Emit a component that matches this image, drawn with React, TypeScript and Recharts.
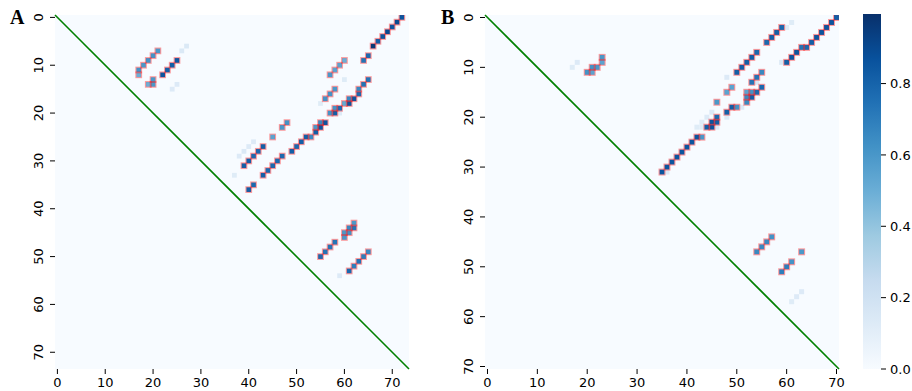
import React from "react"
import {
  ScatterChart,
  Scatter,
  XAxis,
  YAxis,
  CartesianGrid,
  ReferenceLine,
  BarChart,
  Bar,
} from "recharts"

// panel A (74 x 74) – cells marked with a red box
const A_PAIR_COL = [21, 20, 19, 18, 17, 17, 19, 20, 20, 25, 24, 23, 22, 72, 71, 70, 69, 68, 67, 66, 65, 64, 60, 59, 58, 57, 65, 64, 63, 63, 62, 61, 61, 60, 59, 58, 58, 57, 58, 57, 56, 56, 55, 55, 54, 54, 53, 52, 51, 50, 49, 48, 47, 45, 47, 46, 45, 44, 43, 41, 40, 43, 42, 41, 40, 39, 62, 62, 61, 61, 60, 60, 58, 57, 56, 55, 65, 64, 63, 62, 61]
const A_PAIR_ROW = [7, 8, 9, 10, 11, 12, 14, 14, 13, 9, 10, 11, 12, 0, 1, 2, 3, 4, 5, 6, 8, 9, 9, 10, 11, 12, 13, 14, 15, 16, 17, 17, 18, 18, 19, 19, 20, 20, 15, 16, 17, 22, 22, 23, 23, 24, 25, 25, 26, 27, 28, 22, 23, 25, 29, 30, 31, 32, 33, 35, 36, 27, 28, 29, 30, 31, 43, 44, 44, 45, 45, 46, 47, 48, 49, 50, 49, 50, 51, 52, 53]
const A_PAIR_VAL = [0.6, 0.62, 0.62, 0.6, 0.62, 0.5, 0.5, 0.6, 0.6, 0.85, 0.82, 0.82, 0.86, 0.86, 0.9, 0.86, 0.9, 0.86, 0.82, 0.97, 0.78, 0.74, 0.5, 0.55, 0.55, 0.6, 0.74, 0.74, 0.66, 0.78, 0.86, 0.66, 0.86, 0.52, 0.78, 0.62, 0.82, 0.62, 0.6, 0.62, 0.62, 0.86, 0.66, 0.86, 0.6, 0.82, 0.66, 0.82, 0.82, 0.78, 0.82, 0.62, 0.6, 0.55, 0.78, 0.78, 0.78, 0.78, 0.82, 0.78, 0.82, 0.82, 0.78, 0.78, 0.82, 0.82, 0.6, 0.74, 0.66, 0.62, 0.6, 0.6, 0.74, 0.74, 0.74, 0.78, 0.66, 0.7, 0.74, 0.7, 0.78]

// panel A – faint cells without a box
const A_FAINT_COL = [26, 27, 24, 25, 60, 59, 55, 41, 40, 39, 38, 37, 59]
const A_FAINT_ROW = [7, 6, 15, 14, 13, 20, 18, 26, 27, 28, 29, 33, 54]
const A_FAINT_VAL = [0.14, 0.14, 0.13, 0.13, 0.12, 0.13, 0.12, 0.13, 0.13, 0.14, 0.13, 0.12, 0.13]

// panel B (71 x 71)
const B_PAIR_COL = [23, 23, 22, 21, 21, 20, 70, 69, 68, 67, 66, 65, 64, 63, 62, 61, 60, 59, 58, 57, 56, 54, 53, 52, 51, 50, 49, 48, 55, 54, 53, 55, 54, 53, 52, 52, 53, 52, 46, 50, 49, 48, 46, 46, 45, 45, 44, 43, 42, 41, 40, 39, 38, 37, 36, 35, 57, 56, 55, 54, 63, 61, 60, 59]
const B_PAIR_ROW = [8, 9, 10, 10, 11, 11, 0, 1, 2, 3, 4, 5, 6, 6, 7, 8, 9, 2, 3, 4, 5, 7, 8, 9, 10, 11, 14, 15, 11, 12, 13, 14, 15, 15, 15, 16, 16, 17, 17, 18, 18, 19, 20, 21, 21, 22, 22, 24, 24, 25, 26, 27, 28, 29, 30, 31, 44, 45, 46, 47, 47, 49, 50, 51]
const B_PAIR_VAL = [0.6, 0.55, 0.6, 0.62, 0.55, 0.62, 0.82, 0.86, 0.86, 0.86, 0.86, 0.82, 0.78, 0.74, 0.86, 0.86, 0.82, 0.78, 0.82, 0.82, 0.78, 0.78, 0.82, 0.82, 0.82, 0.82, 0.55, 0.55, 0.66, 0.74, 0.74, 0.78, 0.78, 0.62, 0.55, 0.66, 0.82, 0.66, 0.6, 0.62, 0.82, 0.82, 0.78, 0.82, 0.86, 0.86, 0.82, 0.6, 0.86, 0.86, 0.86, 0.86, 0.86, 0.86, 0.86, 0.86, 0.62, 0.66, 0.66, 0.66, 0.6, 0.62, 0.7, 0.7]

const B_FAINT_COL = [18, 17, 59, 60, 61, 48, 54, 51, 48, 45, 44, 43, 42, 43, 46, 36, 63, 62, 61]
const B_FAINT_ROW = [9, 10, 9, 2, 1, 12, 13, 18, 20, 19, 20, 21, 22, 22, 22, 31, 55, 56, 57]
const B_FAINT_VAL = [0.13, 0.12, 0.14, 0.12, 0.12, 0.13, 0.14, 0.13, 0.13, 0.13, 0.13, 0.12, 0.12, 0.12, 0.13, 0.13, 0.13, 0.13, 0.12]

const TICKS = [0, 10, 20, 30, 40, 50, 60, 70]
const CB_TICKS = [0, 0.2, 0.4, 0.6, 0.8]
const CB_MAX = 0.995

const BLUES = ["#f7fbff", "#deebf7", "#c6dbef", "#9ecae1", "#6baed6", "#4292c6", "#2171b5", "#08519c", "#08306b"]

const hex = (c: string) => [1, 3, 5].map((i) => parseInt(c.slice(i, i + 2), 16))

function blues(v: number) {
  const t = Math.max(0, Math.min(1, v)) * (BLUES.length - 1)
  const i = Math.min(Math.floor(t), BLUES.length - 2)
  const f = t - i
  const a = hex(BLUES[i])
  const b = hex(BLUES[i + 1])
  const c = a.map((x, k) => Math.round(x + (b[k] - x) * f))
  return `rgb(${c[0]},${c[1]},${c[2]})`
}

const FONT = "DejaVu Sans, sans-serif"
const PLOT = 354

function toCells(cols: number[], rows: number[], vals: number[]) {
  return cols.map((c, i) => ({ x: c + 0.5, y: rows[i] + 0.5, v: vals[i] }))
}

const YTick = ({ x, y, payload }: any) => (
  <text
    x={x - 9}
    y={y}
    transform={`rotate(-90 ${x - 9} ${y})`}
    textAnchor="middle"
    dominantBaseline="central"
    fontSize={13}
    fontFamily={FONT}
    fill="#000"
  >
    {Math.floor(payload.value)}
  </text>
)

function HeatPanel({ n, pairs, faint }: { n: number; pairs: any[]; faint: any[] }) {
  const size = PLOT / n
  const h = size / 2
  const ticks = TICKS.map((t) => t + 0.5)

  const fillShape = (p: any) => (
    <rect x={p.cx - h} y={p.cy - h} width={size} height={size} fill={blues(p.payload.v)} />
  )
  // pink box sits on the cell edge, a little outside
  const boxShape = (p: any) => (
    <rect
      x={p.cx - h - 0.4}
      y={p.cy - h - 0.4}
      width={size + 0.8}
      height={size + 0.8}
      fill="none"
      stroke="rgba(255,20,20,0.4)"
      strokeWidth={1.2}
    />
  )

  return (
    <ScatterChart width={430} height={391} margin={{ top: 15, right: 21, left: 0, bottom: 0 }}>
      <CartesianGrid horizontal={false} vertical={false} fill="#f7fbff" />
      <XAxis
        type="number"
        dataKey="x"
        domain={[0, n]}
        ticks={ticks}
        tickFormatter={(v) => String(Math.floor(v))}
        height={22}
        axisLine={false}
        tickSize={5}
        tickMargin={4}
        tickLine={{ stroke: "#000" }}
        tick={{ fill: "#000", fontSize: 13, fontFamily: FONT }}
        allowDataOverflow
      />
      <YAxis
        type="number"
        dataKey="y"
        domain={[0, n]}
        reversed
        ticks={ticks}
        width={55}
        axisLine={false}
        tickSize={5}
        tickLine={{ stroke: "#000" }}
        tick={<YTick />}
        allowDataOverflow
      />
      <Scatter data={[...faint, ...pairs]} shape={fillShape} isAnimationActive={false} />
      <Scatter data={pairs} shape={boxShape} isAnimationActive={false} />
      <ReferenceLine
        segment={[
          { x: 0, y: 0 },
          { x: n, y: n },
        ]}
        stroke="#008000"
        strokeWidth={1.6}
      />
    </ScatterChart>
  )
}

function ColorBar() {
  return (
    <BarChart
      width={62}
      height={391}
      data={[{ name: "cb", v: CB_MAX }]}
      margin={{ top: 14, right: 0, left: 13, bottom: 22 }}
      barCategoryGap={0}
    >
      <defs>
        <linearGradient id="bluesGrad" x1="0" y1="1" x2="0" y2="0">
          {BLUES.map((c, i) => (
            <stop key={i} offset={`${(i / (BLUES.length - 1)) * 100}%`} stopColor={c} />
          ))}
        </linearGradient>
      </defs>
      <XAxis dataKey="name" hide />
      <YAxis
        orientation="right"
        domain={[0, CB_MAX]}
        ticks={CB_TICKS}
        tickFormatter={(v) => v.toFixed(1)}
        width={31}
        axisLine={false}
        tickSize={5}
        tickMargin={4}
        tickLine={{ stroke: "#000" }}
        tick={{ fill: "#000", fontSize: 13, fontFamily: FONT, textAnchor: "start" }}
      />
      <Bar dataKey="v" fill="url(#bluesGrad)" isAnimationActive={false} />
    </BarChart>
  )
}

export default function App() {
  const aPairs = toCells(A_PAIR_COL, A_PAIR_ROW, A_PAIR_VAL)
  const aFaint = toCells(A_FAINT_COL, A_FAINT_ROW, A_FAINT_VAL)
  const bPairs = toCells(B_PAIR_COL, B_PAIR_ROW, B_PAIR_VAL)
  const bFaint = toCells(B_FAINT_COL, B_FAINT_ROW, B_FAINT_VAL)

  return (
    <div style={{ position: "absolute", left: 0, top: 0, width: 912, height: 391, background: "#fff" }}>
      <div style={{ position: "absolute", left: 0, top: 0 }}>
        <HeatPanel n={74} pairs={aPairs} faint={aFaint} />
      </div>
      <div style={{ position: "absolute", left: 430, top: 0 }}>
        <HeatPanel n={71} pairs={bPairs} faint={bFaint} />
      </div>
      <div style={{ position: "absolute", left: 850, top: 0 }}>
        <ColorBar />
      </div>
      <svg
        width={912}
        height={391}
        style={{ position: "absolute", left: 0, top: 0, pointerEvents: "none" }}
      >
        <text x={10} y={24} fontSize={20} fontWeight="bold" fontFamily="Liberation Serif, serif" fill="#000">
          A
        </text>
        <text x={441} y={24} fontSize={20} fontWeight="bold" fontFamily="Liberation Serif, serif" fill="#000">
          B
        </text>
      </svg>
    </div>
  )
}
